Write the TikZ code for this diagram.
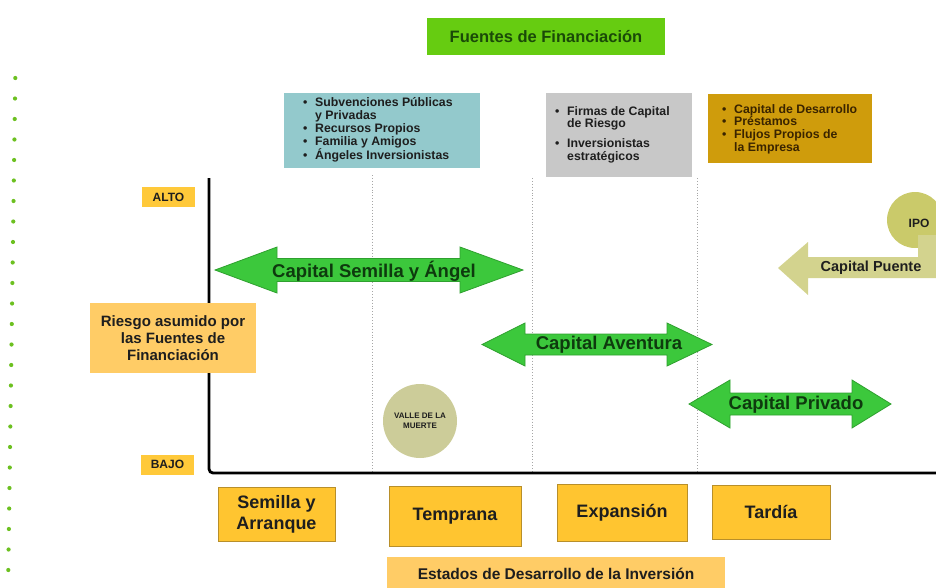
\documentclass[tikz,border=0pt]{standalone}
\usepackage{fontspec}
\setmainfont{Liberation Sans}
\definecolor{arrgreen}{HTML}{3CC83C}
\definecolor{arrline}{HTML}{2FA02F}
\definecolor{darkgreen}{HTML}{0E3A0E}
\definecolor{titlegreen}{HTML}{66CC11}
\definecolor{titletext}{HTML}{1A4A08}
\definecolor{tealbox}{HTML}{93C9CC}
\definecolor{greybox}{HTML}{C8C8C8}
\definecolor{goldbox}{HTML}{CF9C0C}
\definecolor{goldtext}{HTML}{3A2400}
\definecolor{stagefill}{HTML}{FFC530}
\definecolor{stageline}{HTML}{B88F2A}
\definecolor{paleorange}{HTML}{FFCC66}
\definecolor{labelfill}{HTML}{FFC93A}
\definecolor{khaki}{HTML}{CCCC99}
\definecolor{olive}{HTML}{CACA6A}
\definecolor{olivearrow}{HTML}{D3D38E}
\definecolor{dotgreen}{HTML}{6CC020}
\definecolor{boxtext}{HTML}{1E1E1E}
\newcommand\bul{\makebox[12pt][l]{•}}
\newcommand\nob{\hspace*{12pt}}
\begin{document}
\begin{tikzpicture}[x=1pt,y=-1pt,
  arrowtxt/.style={font=\bfseries\fontsize{18.5}{20}\selectfont, text=darkgreen, inner sep=0},
  greenarr/.style={fill=arrgreen, draw=arrline, line width=0.8pt, line join=miter},
  stagebox/.style={draw=stageline, fill=stagefill, line width=1pt, inner sep=0,
     font=\bfseries\fontsize{18}{21}\selectfont, text=boxtext, align=center},
  listbox/.style={inner sep=0, align=left, font=\bfseries\fontsize{12.3}{12.7}\selectfont},
  smalllabel/.style={fill=labelfill, inner sep=0, minimum width=53, minimum height=20,
     font=\bfseries\fontsize{12}{14}\selectfont, text=boxtext},
  guide/.style={draw=gray!70, dotted, line width=0.9pt}
]
\useasboundingbox (0,0) rectangle (936,587);

% left dotted green column
\foreach \i in {0,...,24}
  \fill[dotgreen] ({15.3-7*\i/24},{78+492*\i/24}) circle (2.1);

% title
\node[fill=titlegreen, minimum width=238, minimum height=37, inner sep=0,
      font=\bfseries\fontsize{16.5}{18}\selectfont, text=titletext] (title) at (546,36.5) {Fuentes de Financiación};

% source boxes
\node[fill=tealbox, minimum width=196, minimum height=75, inner sep=0] (teal) at (382,130.5) {};
\node[listbox, anchor=west, text=boxtext] (tealtxt) at (303,130) {\bul Subvenciones Públicas\\\nob y Privadas\\\bul Recursos Propios\\\bul Familia y Amigos\\\bul Ángeles Inversionistas};

\node[fill=greybox, minimum width=146, minimum height=84, inner sep=0] (grey) at (619,135) {};
\node[listbox, anchor=west, text=boxtext] (greytxt) at (555,134.5) {\bul Firmas de Capital\\\nob de Riesgo\\[7pt]\bul Inversionistas\\\nob estratégicos};

\node[fill=goldbox, minimum width=164, minimum height=69, inner sep=0] (gold) at (790,128.5) {};
\node[listbox, anchor=west, text=goldtext] (goldtxt) at (722,129) {\bul Capital de Desarrollo\\\bul Préstamos\\\bul Flujos Propios de\\\nob la Empresa};

% guide lines
\draw[guide] (372,175) -- (372,473);
\draw[guide] (532,178) -- (532,473);
\draw[guide] (697,178) -- (697,473);

% axes
\draw[line width=2.8pt, rounded corners=4pt] (209,178) -- (209,473) -- (936,473);

% axis labels
\node[smalllabel] (alto) at (168.5,197) {ALTO};
\node[smalllabel] (bajo) at (167.5,464.5) {BAJO};
\node[fill=paleorange, minimum width=166, minimum height=70, inner sep=0, align=center,
      font=\bfseries\fontsize{15}{17}\selectfont, text=boxtext] (riesgo) at (173,338)
      {Riesgo asumido por\\las Fuentes de\\Financiación};

% valle de la muerte
\node[circle, fill=khaki, minimum size=74, inner sep=0, align=center,
      font=\bfseries\fontsize{8}{10}\selectfont, text=boxtext] (valle) at (420,421) {VALLE DE LA\\MUERTE};

% green double arrows
\draw[greenarr] (215,270) -- (277,247) -- (277,258.5) -- (460,258.5) -- (460,247) -- (523,270)
   -- (460,293) -- (460,281.5) -- (277,281.5) -- (277,293) -- cycle;
\node[arrowtxt] (semilla) at (374,271) {Capital Semilla y Ángel};

\draw[greenarr] (482,344.5) -- (525,323) -- (525,334) -- (667,334) -- (667,323) -- (712,344.5)
   -- (667,366) -- (667,355) -- (525,355) -- (525,366) -- cycle;
\node[arrowtxt] (aventura) at (609,345) {Capital Aventura};

\draw[greenarr] (689,404) -- (730,380) -- (730,393) -- (852,393) -- (852,380) -- (891,404)
   -- (852,428) -- (852,415) -- (730,415) -- (730,428) -- cycle;
\node[arrowtxt] (privado) at (796,405) {Capital Privado};

% IPO and bridge capital
\node[circle, fill=olive, minimum size=56, inner sep=0] (ipo) at (915,220) {};
\fill[olivearrow] (778,268) -- (808,242) -- (808,257) -- (918,257) -- (918,235) -- (936,235)
   -- (936,278) -- (808,278) -- (808,295) -- cycle;
\node[font=\bfseries\fontsize{12}{14}\selectfont, text=boxtext, inner sep=0] (ipotxt) at (919,223) {IPO};
\node[font=\bfseries\fontsize{14.5}{16}\selectfont, text=boxtext, inner sep=0] (puente) at (871,268) {Capital Puente};

% stages
\node[stagebox, minimum width=117, minimum height=54] (s1) at (276.5,514) {Semilla y\\Arranque};
\node[stagebox, minimum width=132, minimum height=60] (s2) at (455,516) {Temprana};
\node[stagebox, minimum width=130, minimum height=57] (s3) at (622,512.5) {Expansión};
\node[stagebox, minimum width=118, minimum height=54] (s4) at (771,512) {Tardía};

\node[fill=paleorange, minimum width=338, minimum height=34, inner sep=0,
      font=\bfseries\fontsize{15.5}{18}\selectfont, text=boxtext] (estados) at (556,574) {Estados de Desarrollo de la Inversión};
\end{tikzpicture}
\end{document}
